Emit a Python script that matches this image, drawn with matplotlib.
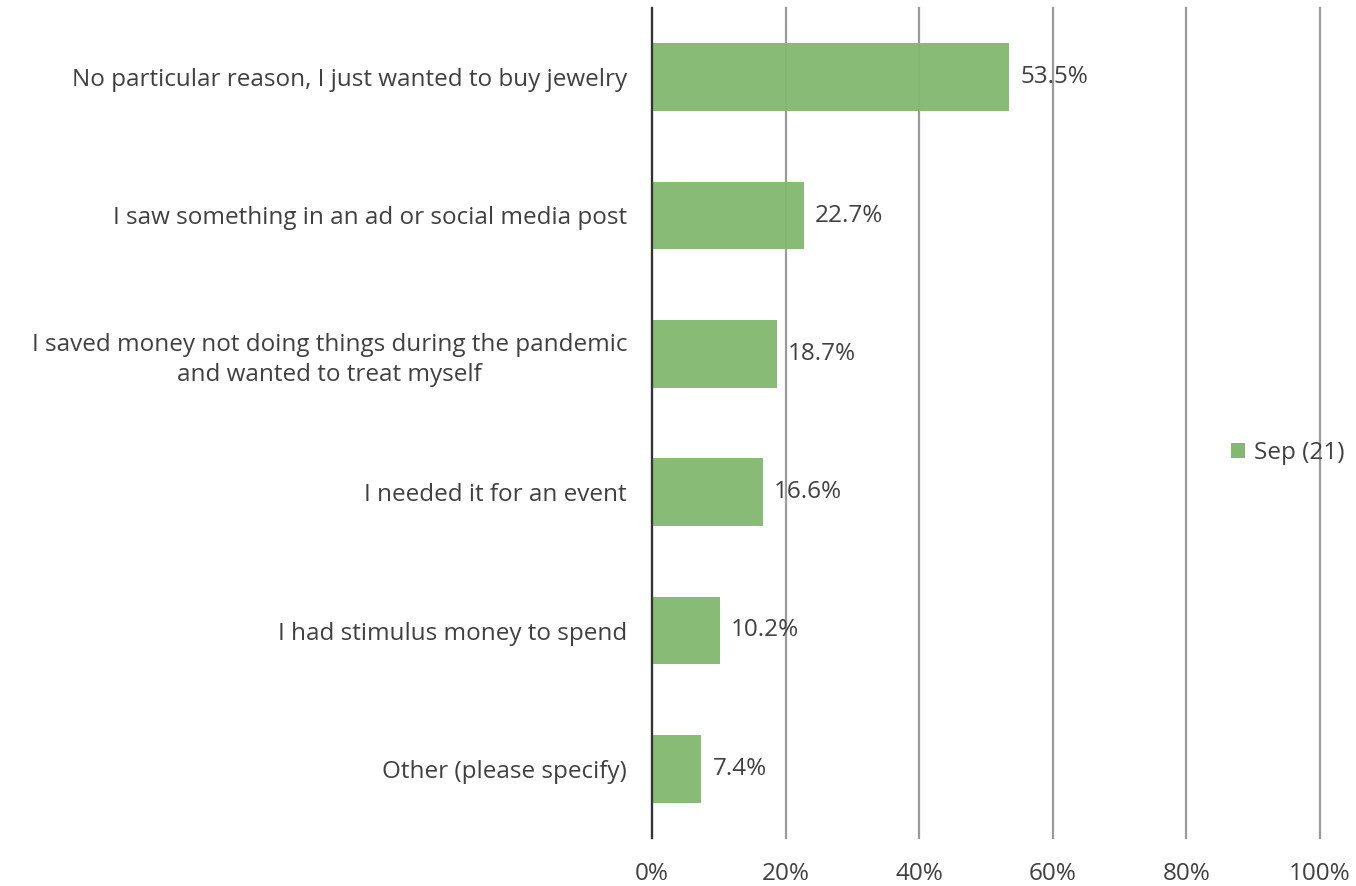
import matplotlib
matplotlib.use("Agg")
import matplotlib.pyplot as plt
from matplotlib.patches import Patch
from matplotlib.ticker import FuncFormatter

plt.rcParams['font.family'] = ['Open Sans', 'DejaVu Sans']

categories = [
    "No particular reason, I just wanted to buy jewelry",
    "I saw something in an ad or social media post",
    "I saved money not doing things during the pandemic\nand wanted to treat myself",
    "I needed it for an event",
    "I had stimulus money to spend",
    "Other (please specify)",
]
values = [53.5, 22.7, 18.7, 16.6, 10.2, 7.4]
series_name = "Sep (21)"
xticks = [0, 20, 40, 60, 80, 100]

bar_color = "#82b86f"
text_color = "#404040"
fs = 17.5

fig = plt.figure(figsize=(13.56, 8.86), dpi=100)
ax = fig.add_axes([652 / 1356, 1 - 838 / 886, (1320 - 652) / 1356, (838 - 8) / 886])

ypos = list(range(len(categories)))
ax.barh(ypos, values, height=0.49, color=bar_color, alpha=0.95, zorder=2)

for y, v in zip(ypos, values):
    ax.annotate(f"{v:.1f}%", xy=(v, y), xytext=(8, 0), textcoords="offset points",
                ha="left", va="center", fontsize=fs, color=text_color, zorder=4)

ax.set_xlim(0, 100)
ax.set_ylim(len(categories) - 0.5, -0.5)
ax.set_xticks(xticks)
ax.xaxis.set_major_formatter(FuncFormatter(lambda x, _: f"{x:.0f}%"))
ax.set_yticks(ypos)
ax.set_yticklabels(categories, fontsize=fs, color=text_color, linespacing=1.36,
                   multialignment="center")
ax.tick_params(axis="y", length=0, pad=18)
ax.tick_params(axis="x", length=0, pad=17, labelsize=fs, labelcolor=text_color)

ax.grid(axis="x", color="#9a9a9a", linewidth=1.6, zorder=1)
for gl in ax.get_xgridlines():
    gl.set_clip_on(False)
ax.set_axisbelow(True)
for side in ("top", "right", "bottom"):
    ax.spines[side].set_visible(False)
ax.spines["left"].set_color("#333333")
ax.spines["left"].set_linewidth(1.6)
ax.spines["left"].set_zorder(3)

handle = Patch(facecolor=bar_color, edgecolor="none")
fig.legend([handle], [series_name], loc="center left",
           bbox_to_anchor=(1209 / 1356, 1 - 453 / 886), frameon=False,
           fontsize=fs, handlelength=0.6, handleheight=0.6, handletextpad=0.35,
           labelcolor=text_color)

fig.savefig("out.png", dpi=100)
